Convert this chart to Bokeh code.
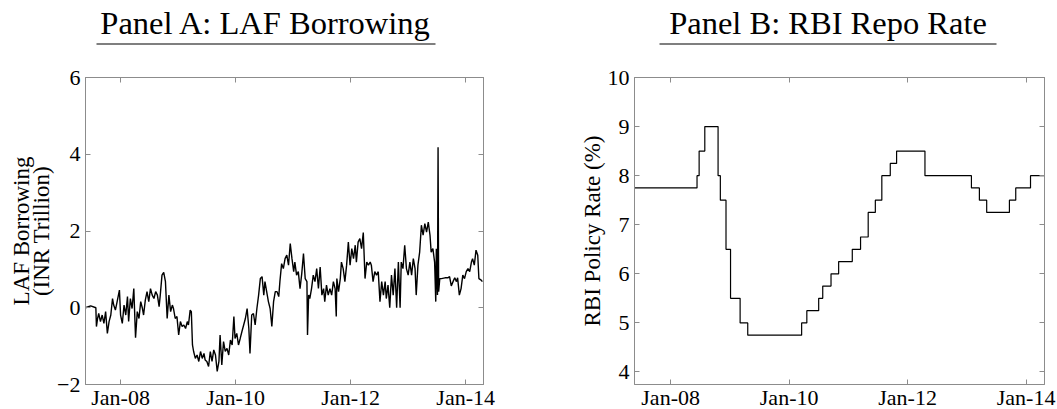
import pandas as pd
from bokeh.plotting import figure
from bokeh.layouts import column, row
from bokeh.models import Range1d, LinearAxis, FixedTicker, ColumnDataSource, CustomLabelingPolicy
from bokeh.core.properties import value
from bokeh.embed import file_html
from bokeh.resources import INLINE

# ---------------- data ----------------
panel_titles = ["Panel A: LAF Borrowing", "Panel B: RBI Repo Rate"]
x_tick_years = [2008, 2010, 2012, 2014]
x_tick_labels = ["Jan-08", "Jan-10", "Jan-12", "Jan-14"]
laf_yticks = [-2, 0, 2, 4, 6]
repo_yticks = [4, 5, 6, 7, 8, 9, 10]

laf_year = [
    2007.39, 2007.48, 2007.57, 2007.58, 2007.60, 2007.62, 2007.65, 2007.68, 2007.71, 2007.74,
    2007.77, 2007.80, 2007.83, 2007.86, 2007.88, 2007.91, 2007.94, 2007.98, 2008.00, 2008.03,
    2008.06, 2008.09, 2008.12, 2008.14, 2008.17, 2008.20, 2008.23, 2008.26, 2008.29, 2008.32,
    2008.35, 2008.38, 2008.40, 2008.43, 2008.46, 2008.49, 2008.52, 2008.55, 2008.58, 2008.61,
    2008.64, 2008.67, 2008.69, 2008.72, 2008.75, 2008.78, 2008.81, 2008.84, 2008.87, 2008.90,
    2008.92, 2008.95, 2008.98, 2009.01, 2009.04, 2009.07, 2009.10, 2009.13, 2009.16, 2009.18,
    2009.21, 2009.23, 2009.25, 2009.27, 2009.30, 2009.33, 2009.36, 2009.39, 2009.42, 2009.45,
    2009.47, 2009.50, 2009.53, 2009.56, 2009.59, 2009.62, 2009.65, 2009.68, 2009.71, 2009.73,
    2009.76, 2009.79, 2009.82, 2009.85, 2009.88, 2009.91, 2009.94, 2009.97, 2009.99, 2010.02,
    2010.05, 2010.08, 2010.11, 2010.14, 2010.17, 2010.20, 2010.23, 2010.25, 2010.28, 2010.31,
    2010.34, 2010.37, 2010.40, 2010.43, 2010.46, 2010.49, 2010.51, 2010.54, 2010.57, 2010.60,
    2010.63, 2010.66, 2010.69, 2010.72, 2010.75, 2010.77, 2010.80, 2010.83, 2010.86, 2010.89,
    2010.92, 2010.95, 2010.98, 2011.01, 2011.03, 2011.06, 2011.09, 2011.12, 2011.15, 2011.18,
    2011.21, 2011.24, 2011.25, 2011.27, 2011.29, 2011.32, 2011.35, 2011.38, 2011.41, 2011.44,
    2011.47, 2011.50, 2011.53, 2011.55, 2011.58, 2011.61, 2011.64, 2011.67, 2011.70, 2011.73,
    2011.75, 2011.76, 2011.79, 2011.82, 2011.84, 2011.87, 2011.90, 2011.93, 2011.96, 2011.99,
    2012.02, 2012.05, 2012.08, 2012.10, 2012.13, 2012.16, 2012.19, 2012.22, 2012.25, 2012.28,
    2012.31, 2012.34, 2012.36, 2012.39, 2012.42, 2012.45, 2012.48, 2012.51, 2012.54, 2012.57,
    2012.60, 2012.62, 2012.65, 2012.68, 2012.71, 2012.74, 2012.77, 2012.80, 2012.83, 2012.86,
    2012.88, 2012.91, 2012.94, 2012.97, 2013.00, 2013.03, 2013.06, 2013.09, 2013.12, 2013.14,
    2013.17, 2013.20, 2013.23, 2013.26, 2013.29, 2013.32, 2013.35, 2013.38, 2013.40, 2013.43,
    2013.46, 2013.48, 2013.49, 2013.51, 2013.52, 2013.53, 2013.55, 2013.58, 2013.64, 2013.69,
    2013.72, 2013.75, 2013.78, 2013.81, 2013.84, 2013.86, 2013.89, 2013.92, 2013.95, 2013.98,
    2014.01, 2014.04, 2014.07, 2014.10, 2014.12, 2014.15, 2014.18, 2014.21, 2014.23, 2014.27,
    2014.29,
]
laf_value = [
    0.00, 0.05, 0.00, -0.49, -0.28, -0.15, -0.36, -0.19, -0.41, -0.10,
    -0.67, -0.36, -0.19, 0.24, 0.07, -0.06, 0.16, 0.46, -0.19, -0.41,
    0.07, -0.19, 0.29, -0.36, 0.24, -0.02, 0.50, -0.78, -0.10, -0.28,
    0.16, -0.02, -0.19, 0.20, 0.42, 0.16, 0.50, 0.33, 0.24, 0.42,
    0.33, 0.03, 0.33, 0.85, 0.92, 0.68, -0.28, 0.33, -0.10, 0.07,
    -0.02, -0.28, -0.23, -0.71, -0.36, -0.49, -0.45, -0.54, -0.36, -0.45,
    -0.06, -0.10, -0.97, -1.14, -1.32, -1.23, -1.40, -1.14, -1.32, -1.19,
    -1.36, -1.40, -1.53, -1.14, -1.40, -1.10, -1.23, -1.66, -1.40, -0.71,
    -1.49, -0.88, -1.14, -1.06, -1.23, -0.84, -0.97, -0.23, -0.80, -0.67,
    -0.97, -0.80, -0.62, -0.45, -0.28, -0.02, -0.54, -1.19, -0.19, -0.15,
    -0.45, -0.02, 0.33, 0.76, 0.81, 0.33, 0.68, 0.42, 0.16, -0.02,
    -0.49, 0.16, 0.42, 0.42, 0.29, 0.68, 1.15, 1.02, 1.28, 1.37,
    1.11, 1.67, 1.28, 0.94, 1.19, 0.85, 0.94, 0.50, 0.89, 1.41,
    0.76, 0.68, -0.71, 0.33, 0.24, 0.50, 0.85, 0.68, 1.02, 0.50,
    1.06, 0.33, 0.50, 0.16, 0.59, 0.33, 0.50, 0.33, 0.68, 0.50,
    -0.23, 0.76, 0.42, 0.76, 1.19, 1.02, 0.68, 1.11, 1.71, 1.11,
    1.54, 1.28, 1.63, 1.19, 1.71, 1.80, 1.54, 1.96, 0.76, 1.19,
    1.11, 1.19, 1.11, 0.68, 0.94, 0.85, 0.94, 0.16, 0.68, 0.33,
    0.68, 0.24, 0.59, 0.00, 0.85, 0.33, 1.02, 0.00, 1.19, 0.00,
    1.19, 1.02, 1.63, 1.02, 0.85, 1.19, 0.85, 1.28, 1.02, 0.33,
    1.11, 1.45, 2.15, 1.89, 2.19, 1.97, 2.23, 1.89, 1.45, 1.54,
    1.19, 0.16, 1.54, 0.33, 4.18, 0.42, 0.76, 0.76, 0.78, 0.78,
    0.81, 0.57, 0.68, 0.78, 0.68, 0.78, 0.33, 0.50, 0.85, 0.76,
    0.94, 1.02, 0.94, 1.19, 1.28, 1.11, 1.50, 1.37, 0.76, 0.72,
    0.68,
]

repo_dates = [
    "2007-05-22", "2008-06-12", "2008-06-25", "2008-07-30", "2008-10-20", "2008-11-03",
    "2008-12-08", "2009-01-05", "2009-03-05", "2009-04-21", "2010-03-19", "2010-04-20",
    "2010-07-02", "2010-07-27", "2010-09-16", "2010-11-02", "2011-01-25", "2011-03-17",
    "2011-05-03", "2011-06-16", "2011-07-26", "2011-09-16", "2011-10-25", "2012-04-17",
    "2013-01-29", "2013-03-19", "2013-05-03", "2013-09-20", "2013-10-29", "2014-01-28",
    "2014-04-24",
]
repo_rate = [
    7.75, 8.00, 8.50, 9.00, 8.00, 7.50,
    6.50, 5.50, 5.00, 4.75, 5.00, 5.25,
    5.50, 5.75, 6.00, 6.25, 6.50, 6.75,
    7.25, 7.50, 8.00, 8.25, 8.50, 8.00,
    7.75, 7.50, 7.25, 7.50, 7.75, 8.00,
    8.00,
]

# convert dates to decimal years
_d = pd.to_datetime(pd.Series(repo_dates))
repo_year = list(_d.dt.year + (_d.dt.dayofyear - 1) / (365 + _d.dt.is_leap_year.astype(int)))

X0, X1 = 2007.39, 2014.31
SERIF = "Liberation Serif"
FRAME = "#8c8c8c"
TICK_FS = "22px"
LABEL_FS = "23px"

HIDE_ALL = CustomLabelingPolicy(code="""
const all = [...indices];
for (const i of all) indices.unset(i);
return indices;
""")


def style_axis(ax, ticks, labels=True, overrides=None, standoff=4):
    ax.ticker = FixedTicker(ticks=ticks)
    ax.major_tick_in = 5
    ax.major_tick_out = 0
    ax.minor_tick_line_color = None
    ax.axis_line_color = FRAME
    ax.major_tick_line_color = FRAME
    ax.major_label_text_font = SERIF
    ax.major_label_text_color = "black"
    ax.major_label_text_font_size = TICK_FS
    if labels:
        ax.major_label_standoff = standoff
        if overrides:
            ax.major_label_overrides = overrides
    else:
        ax.major_label_policy = HIDE_ALL
        ax.major_label_standoff = 0


def make_panel(fw, border_left, border_right, yrange, yticks, ylabel, label_standoff):
    p = figure(frame_width=fw, frame_height=307, x_range=Range1d(X0, X1), y_range=Range1d(*yrange),
               output_backend="svg", toolbar_location=None,
               min_border_left=border_left, min_border_right=border_right,
               min_border_top=16, min_border_bottom=26)
    p.grid.visible = False
    p.outline_line_color = FRAME
    p.background_fill_color = "white"
    p.border_fill_color = "white"
    style_axis(p.xaxis[0], x_tick_years, True, dict(zip(x_tick_years, x_tick_labels)), standoff=0)
    style_axis(p.yaxis[0], yticks, True, standoff=5)
    p.yaxis[0].axis_label = ylabel
    p.yaxis[0].axis_label_text_font = SERIF
    p.yaxis[0].axis_label_text_font_size = LABEL_FS
    p.yaxis[0].axis_label_text_font_style = "normal"
    p.yaxis[0].axis_label_text_color = "black"
    p.yaxis[0].axis_label_text_line_height = 0.8
    p.yaxis[0].axis_label_standoff = label_standoff
    top = LinearAxis()
    style_axis(top, x_tick_years, False)
    right = LinearAxis()
    style_axis(right, yticks, False)
    p.add_layout(top, "above")
    p.add_layout(right, "right")
    return p


pa = make_panel(398, 85, 45, (-2, 6), laf_yticks, "LAF Borrowing\n(INR Trillion)", 0)
pa.line(laf_year, laf_value, line_color="black", line_width=1.4)

pb = make_panel(410, 106, 13, (3.745, 10), repo_yticks, "RBI Policy Rate (%)", 0)
pb.step(repo_year, repo_rate, mode="after", line_color="black", line_width=1.2)

# title strip
pt = figure(width=1057, height=60, x_range=Range1d(0, 1057), y_range=Range1d(60, 0),
            output_backend="svg", toolbar_location=None, min_border=0)
pt.axis.visible = False
pt.grid.visible = False
pt.outline_line_color = None
title_src = ColumnDataSource(dict(x=[265.5, 827.5], y=[22.5, 22.5], t=panel_titles,
                                  x0=[96, 659], x1=[435, 996], u=[43.5, 43.5]))
pt.text(x="x", y="y", text="t", source=title_src, text_font=value(SERIF),
        text_font_size=value("32.5px"), text_align="center", text_baseline="middle",
        text_color="black")
pt.segment(x0="x0", y0="u", x1="x1", y1="u", source=title_src, line_color="#555555", line_width=1.6)

layout = column(pt, row(pa, pb, spacing=0), spacing=0)
open("out.html", "w").write(file_html(layout, INLINE))
